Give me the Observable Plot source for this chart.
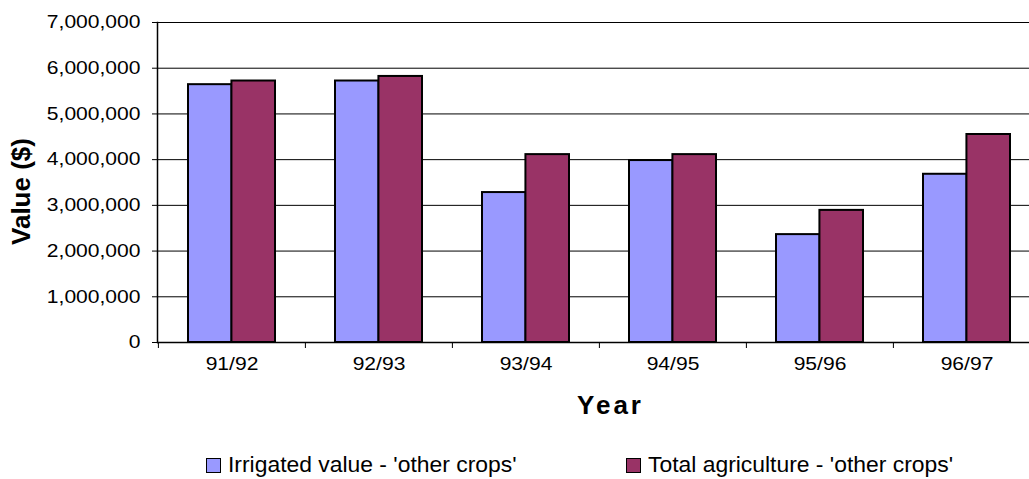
<!DOCTYPE html>
<html><head><meta charset="utf-8">
<script src="https://cdn.jsdelivr.net/npm/d3@7"></script>
<script src="https://cdn.jsdelivr.net/npm/@observablehq/plot@0.6"></script>
<style>
body{margin:0;background:#fff;font-family:"Liberation Sans",Arial,sans-serif;}
#legend{position:relative;height:39px;width:1029px;font-size:22px;color:#000;}
.item{position:absolute;top:13px;display:flex;align-items:center;white-space:nowrap;line-height:24px;}
.sw{width:15px;height:15px;border:1.5px solid #000;margin-right:7px;box-sizing:border-box;}
.lt{display:inline-block;transform-origin:left center;}
</style></head><body><div id="chart"></div><div id="legend"></div>
<script>
const years = ["91/92", "92/93", "93/94", "94/95", "95/96", "96/97"];
const irrigated = [5640000, 5720000, 3280000, 3980000, 2360000, 3680000];
const total = [5720000, 5820000, 4110000, 4110000, 2890000, 4550000];
const yTicks = [0, 1000000, 2000000, 3000000, 4000000, 5000000, 6000000, 7000000];
const seriesNames = ["Irrigated value - 'other crops'", "Total agriculture - 'other crops'"];
const seriesColors = ["#9999FF", "#993366"];

const rows = years.map((year, i) => ({year, irrigated: irrigated[i], total: total[i]}));
const xRange = [157.3, 1040.5];
const padIn = 0.41, padOut = 0.205;
const step = (xRange[1] - xRange[0]) / (years.length - padIn + 2 * padOut);
const half = step * (1 - padIn) / 2;

const plot = Plot.plot({
  width: 1029, height: 440,
  marginLeft: 157, marginRight: 0, marginTop: 22, marginBottom: 98,
  style: {fontFamily: "Liberation Sans, Arial, sans-serif", fontSize: "18px", color: "#000", background: "#fff"},
  x: {domain: years, range: xRange, paddingInner: padIn, paddingOuter: padOut, label: null},
  y: {domain: [0, 7000000], label: null},
  marks: [
    Plot.ruleY(yTicks.slice(1), {stroke: "#000", strokeWidth: 1}),
    Plot.barY(rows, {x: "year", y: "irrigated", fill: seriesColors[0], stroke: "#000", strokeWidth: 2, insetRight: half}),
    Plot.barY(rows, {x: "year", y: "total", fill: seriesColors[1], stroke: "#000", strokeWidth: 2, insetLeft: half}),
    Plot.ruleY([0], {stroke: "#000", strokeWidth: 1.5}),
    Plot.frame({anchor: "left", stroke: "#000", strokeWidth: 1.5}),
    Plot.axisY({ticks: yTicks, tickFormat: d3.format(","), tickSize: 5, tickPadding: 12, label: null}),
    Plot.axisX({tickSize: 0, tickPadding: 15, label: null}),
    Plot.axisX({tickSize: 6, tickFormat: () => "", dx: -step / 2, label: null}),
    Plot.text(["Year"], {frameAnchor: "bottom", dy: 71, dx: 17, fontWeight: "bold", fontSize: 26}),
    Plot.text(["Value ($)"], {frameAnchor: "left", textAnchor: "middle", rotate: -90, dx: -136, dy: 9, fontWeight: "bold", fontSize: 26})
  ]
});
document.getElementById("chart").appendChild(plot);

// Widen the tick label glyphs like the reference's stretched text
d3.select(plot).selectAll('g[aria-label="y-axis tick label"] text, g[aria-label="x-axis tick label"] text')
  .each(function() {
    const len = this.getComputedTextLength();
    if (len > 0) {
      this.setAttribute("textLength", len * 1.17);
      this.setAttribute("lengthAdjust", "spacingAndGlyphs");
    }
  });
// Letter-spaced axis title "Year"
d3.select(plot).selectAll('g[aria-label="text"] text')
  .filter(function() { return this.textContent === "Year"; })
  .style("letter-spacing", "3px");

const legend = document.getElementById("legend");
const lefts = [206, 626];
seriesNames.forEach((name, i) => {
  const it = document.createElement("div");
  it.className = "item";
  it.style.left = lefts[i] + "px";
  const sw = document.createElement("div");
  sw.className = "sw";
  sw.style.background = seriesColors[i];
  const tx = document.createElement("span");
  tx.className = "lt";
  tx.style.transform = "scaleX(1.04)";
  tx.textContent = name;
  it.appendChild(sw); it.appendChild(tx);
  legend.appendChild(it);
});
</script></body></html>
